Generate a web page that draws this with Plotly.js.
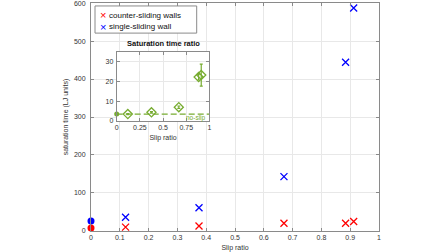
<!DOCTYPE html>
<html><head><meta charset="utf-8">
<script src="https://cdn.plot.ly/plotly-3.0.1.min.js"></script>
<style>html,body{margin:0;padding:0;background:#fff}#chart{width:448px;height:252px}</style>
</head><body><div id="chart"></div>
<script>
// ---- data ----
const slipRatio      = [0.12, 0.375, 0.67, 0.884, 0.912];
const counterSliding = [10, 13, 20, 20, 25];
const singleSliding  = [36, 61, 143, 444, 587];
const noSlipX        = [0];
const noSlipCounter  = [8];
const noSlipSingle   = [26];
const ratioX         = [0.12, 0.375, 0.67, 0.884, 0.912];
const ratio          = [3.5, 4.4, 7.0, 22.3, 23.3];
const ratioErr       = [0.3, 0.4, 0.6, 1.5, 5.6];
const noSlipRatio    = [3.5];
const ratioLineX     = [0, 1];
const yTickVals      = [0, 100, 200, 300, 400, 500, 600];
const legendLabels   = ['counter-sliding walls', 'single-sliding wall'];
const insetTitle     = 'Saturation time ratio';
const xTitle         = 'Slip ratio';
const yTitle         = 'saturation time (LJ units)';
const noSlipLabel    = 'no-slip';

const RED = '#ff0000', BLUE = '#0000ff', GREEN = '#77ac30';
const FONT = 'Liberation Sans, Arial, Helvetica, sans-serif';
const TXT = '#333333', AX = '#8a8a8a', GRID = '#e8e8e8';

const traces = [
  {x: slipRatio, y: counterSliding, mode: 'markers', type: 'scatter', cliponaxis: false,
   marker: {symbol: 'x-thin-open', size: 7, color: RED, line: {width: 1.3, color: RED}}},
  {x: slipRatio, y: singleSliding, mode: 'markers', type: 'scatter', cliponaxis: false,
   marker: {symbol: 'x-thin-open', size: 7, color: BLUE, line: {width: 1.3, color: BLUE}}},
  {x: noSlipX, y: noSlipSingle, mode: 'markers', type: 'scatter', cliponaxis: false,
   marker: {symbol: 'circle', size: 7, color: BLUE}},
  {x: noSlipX, y: noSlipCounter, mode: 'markers', type: 'scatter', cliponaxis: false,
   marker: {symbol: 'circle', size: 7, color: RED}},
  // inset
  {x: ratioLineX, y: ratioLineX.map(() => noSlipRatio[0]), mode: 'lines', type: 'scatter',
   xaxis: 'x2', yaxis: 'y2', line: {color: GREEN, width: 1.2, dash: '6px,3px'}},
  {x: ratioX, y: ratio, mode: 'markers', type: 'scatter', xaxis: 'x2', yaxis: 'y2', cliponaxis: false,
   error_y: {type: 'data', array: ratioErr, color: GREEN, thickness: 1.2, width: 1.5},
   marker: {symbol: 'diamond-open', size: 7, color: GREEN, line: {width: 1.3, color: GREEN}}},
  {x: noSlipX, y: noSlipRatio, mode: 'markers', type: 'scatter', xaxis: 'x2', yaxis: 'y2', cliponaxis: false,
   marker: {symbol: 'circle', size: 5, color: GREEN}}
];

const axBase = {
  showline: true, linecolor: AX, linewidth: 1, mirror: 'ticks',
  ticks: 'inside', ticklen: 3, tickcolor: AX, tickwidth: 1,
  showgrid: true, gridcolor: GRID, gridwidth: 1, zeroline: false,
  ticklabeloverflow: 'allow',
  tickfont: {family: FONT, size: 7, color: TXT}
};

const layout = {
  width: 448, height: 252,
  margin: {l: 91, r: 69, t: 3, b: 21, pad: 0},
  paper_bgcolor: '#ffffff', plot_bgcolor: '#ffffff',
  showlegend: false,
  font: {family: FONT, size: 7, color: TXT},
  xaxis: Object.assign({}, axBase, {range: [0, 1], dtick: 0.1, tick0: 0, domain: [0, 1],
    title: {text: xTitle, font: {family: FONT, size: 7, color: TXT}, standoff: 5}}),
  yaxis: Object.assign({}, axBase, {range: [-0.2, 600.2], tickmode: 'array', tickvals: yTickVals,
    ticktext: yTickVals.map(String), domain: [0, 1], ticklabelstandoff: 3,
    title: {text: yTitle, font: {family: FONT, size: 7, color: TXT}, standoff: 4}}),
  xaxis2: Object.assign({}, axBase, {anchor: 'y2', range: [0, 1], dtick: 0.25, tick0: 0,
    domain: [0.0892, 0.4111],
    title: {text: xTitle, font: {family: FONT, size: 7, color: TXT}, standoff: 4}}),
  yaxis2: Object.assign({}, axBase, {anchor: 'x2', range: [0, 35], dtick: 10, tick0: 0,
    domain: [0.4825, 0.785], ticklabelstandoff: 1}),
  shapes: [
    {type: 'rect', xref: 'paper', yref: 'paper', x0: 0.0139, x1: 0.367, y0: 0.868, y1: 0.987,
     fillcolor: '#ffffff', line: {color: AX, width: 1}, layer: 'above'}
  ],
  annotations: [
    {xref: 'x2 domain', yref: 'y2 domain', x: 0.5, y: 1, xanchor: 'center', yanchor: 'bottom', yshift: 2,
     showarrow: false, text: '<b>' + insetTitle + '</b>', font: {family: FONT, size: 7.5, color: '#111'}},
    {xref: 'x2', yref: 'y2', x: 0.86, y: 1.7, xanchor: 'center', yanchor: 'middle', showarrow: false,
     text: noSlipLabel, font: {family: FONT, size: 6.5, color: GREEN}},
    {xref: 'paper', yref: 'paper', x: (102.7 - 91) / 288, y: (231 - 15) / 228, xanchor: 'center', yanchor: 'middle',
     showarrow: false, text: '×', font: {family: FONT, size: 11, color: RED}},
    {xref: 'paper', yref: 'paper', x: (102.7 - 91) / 288, y: (231 - 26.7) / 228, xanchor: 'center', yanchor: 'middle',
     showarrow: false, text: '×', font: {family: FONT, size: 11, color: BLUE}},
    {xref: 'paper', yref: 'paper', x: (107 - 91) / 288, y: (231 - 15) / 228, xanchor: 'left', yanchor: 'middle',
     showarrow: false, text: legendLabels[0], font: {family: FONT, size: 8, color: '#111'}},
    {xref: 'paper', yref: 'paper', x: (107 - 91) / 288, y: (231 - 26.7) / 228, xanchor: 'left', yanchor: 'middle',
     showarrow: false, text: legendLabels[1], font: {family: FONT, size: 8, color: '#111'}}
  ]
};

Plotly.newPlot('chart', traces, layout, {staticPlot: true, displayModeBar: false});
</script>
</body></html>
